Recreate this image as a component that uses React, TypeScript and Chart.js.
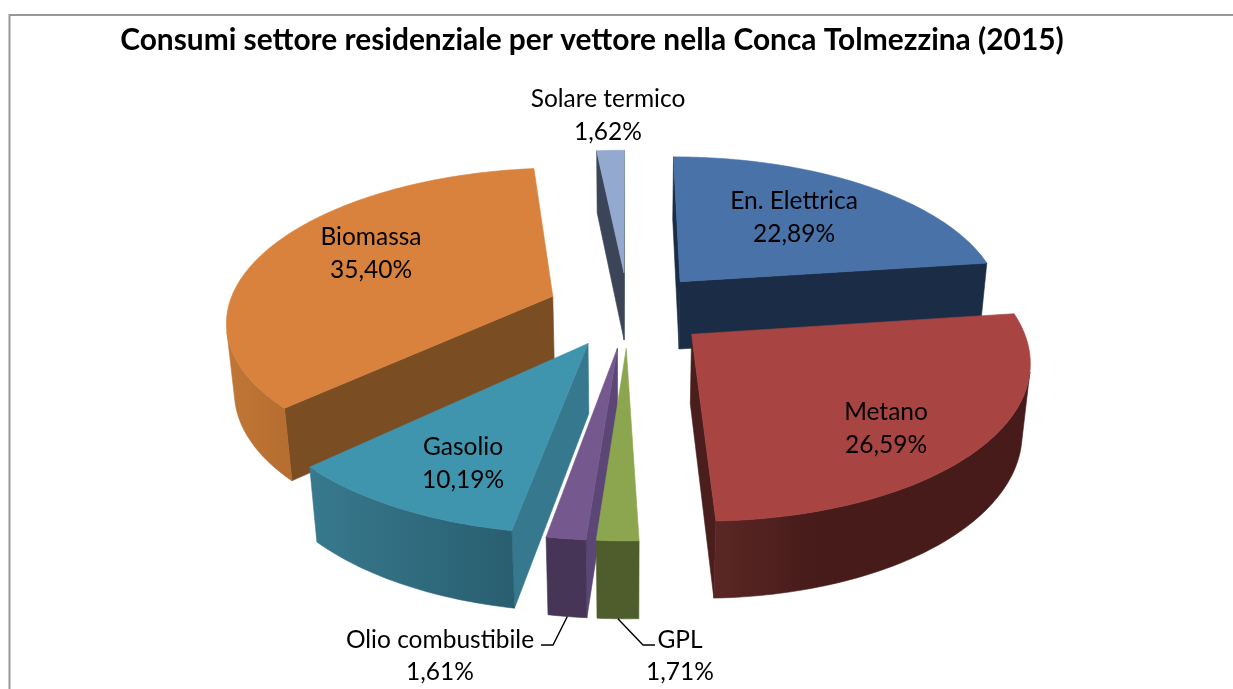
import React, { useEffect, useRef } from "react";
import { Chart, registerables } from "chart.js";

Chart.register(...registerables);

const categories = ["En. Elettrica", "Metano", "GPL", "Olio combustibile", "Gasolio", "Biomassa", "Solare termico"];
const shares = [22.89, 26.59, 1.71, 1.61, 10.19, 35.4, 1.62];
const shareLabels = ["22,89%", "26,59%", "1,71%", "1,61%", "10,19%", "35,40%", "1,62%"];
const chartTitle = "Consumi settore residenziale per vettore nella Conca Tolmezzina (2015)";

const topColors = ["#4872A8", "#A84442", "#8BA64F", "#74588E", "#3F94AE", "#D9823D", "#93A9CF"];
const wallColors = ["#1B2D46", "#4A1E1C", "#4F5D2C", "#5C4675", "#36798E", "#7B4D23", "#3C4558"];
const rimLeftColors = ["#1B2D46", "#5A2724", "#4F5D2C", "#463557", "#38798E", "#C07635", "#3C4558"];
const rimRightColors = ["#1B2D46", "#461B1A", "#4F5D2C", "#463557", "#295E70", "#B56D30", "#3C4558"];
const rimBlendEnd = [1, 0.33, 1, 1, 1, 1, 1];

const FONT = "Lato, 'Noto Sans', sans-serif";
const LABEL_PX = 24.5;
const labelAnchors: [number, number, number, number][] = [
  [794, 201, 794, 234],
  [886, 412, 886, 445],
  [680, 640, 680, 672],
  [440, 640, 440, 672],
  [463, 447, 463, 480],
  [371, 237, 371, 270],
  [608, 99, 608, 132],
];
const leaderElbows: Record<number, [number, number][]> = {
  2: [[643, 645], [655, 645]],
  3: [[553, 645], [541, 645]],
};

// Perspective of the tilted pie, fitted on the reference.
const VIEW = { cx: 628, horizon: -707, base: 9.84e-4, slope: 1.461e-4, widen: 0.32, vanishY: 3800 };

function project(X: number, Y: number, low: boolean): [number, number] {
  const T = 1 / (VIEW.base - VIEW.slope * Y);
  const x = VIEW.cx + X * VIEW.widen * T;
  const y = VIEW.horizon + T;
  if (!low) return [x, y];
  const d = 62 + (y - 150) * 0.0409;
  return [x + ((VIEW.cx - x) * d) / (VIEW.vanishY - y), y + d];
}

function fillPoly(ctx: CanvasRenderingContext2D, pts: [number, number][], color: any) {
  ctx.beginPath();
  pts.forEach((p, i) => (i ? ctx.lineTo(p[0], p[1]) : ctx.moveTo(p[0], p[1])));
  ctx.closePath();
  ctx.fillStyle = color;
  ctx.strokeStyle = color;
  ctx.lineWidth = 0.6;
  ctx.fill();
  ctx.stroke();
}

function signedArea(pts: [number, number][]) {
  let s = 0;
  pts.forEach((p, i) => {
    const q = pts[(i + 1) % pts.length];
    s += p[0] * q[1] - q[0] * p[1];
  });
  return s;
}

const pie3d = {
  id: "pie3d",
  beforeDraw(chart: any) {
    const { ctx } = chart;
    ctx.save();
    ctx.strokeStyle = "#989898";
    ctx.lineWidth = 2;
    ctx.strokeRect(9.5, 15, 1500, 1000);
    ctx.restore();
  },
  beforeDatasetsDraw(chart: any) {
    const { ctx } = chart;
    const arcs = chart.getDatasetMeta(0).data as any[];
    const slices = arcs.map((el, i) => {
      const R = el.outerRadius;
      const off = el.options.offset / R;
      const mid = (el.startAngle + el.endAngle) / 2;
      const ox = Math.cos(mid) * off;
      const oy = Math.sin(mid) * off;
      return { i, el, ox, oy, mid };
    });
    slices.sort((a, b) => a.oy - b.oy);
    ctx.save();
    ctx.lineJoin = "round";
    for (const { i, el, ox, oy } of slices) {
      const steps = Math.max(2, Math.ceil(((el.endAngle - el.startAngle) * 180) / Math.PI));
      const rimWorld: [number, number][] = [];
      for (let k = 0; k <= steps; k++) {
        const a = el.startAngle + ((el.endAngle - el.startAngle) * k) / steps;
        rimWorld.push([ox + Math.cos(a), oy + Math.sin(a)]);
      }
      const apex: [number, number] = [ox, oy];
      const quad = (a: [number, number], b: [number, number]): [number, number][] => [
        project(a[0], a[1], false),
        project(b[0], b[1], false),
        project(b[0], b[1], true),
        project(a[0], a[1], true),
      ];
      const faces = [quad(apex, rimWorld[0]), quad(rimWorld[steps], apex)];
      faces.forEach((q) => {
        if (signedArea(q) < 0) fillPoly(ctx, q, wallColors[i]);
      });
      const visible = rimWorld
        .slice(0, -1)
        .map((p, k) => quad(p, rimWorld[k + 1]))
        .filter((q) => signedArea(q) < 0);
      if (visible.length) {
        // The visible rim is one continuous band: one polygon, one horizontal gradient.
        const upper = [visible[0][0], ...visible.map((q) => q[1])];
        const lower = [visible[0][3], ...visible.map((q) => q[2])];
        const band = [...upper, ...lower.reverse()];
        const xs = band.map((p) => p[0]);
        const grad = ctx.createLinearGradient(Math.min(...xs), 0, Math.max(...xs), 0);
        grad.addColorStop(0, rimLeftColors[i]);
        grad.addColorStop(rimBlendEnd[i], rimRightColors[i]);
        fillPoly(ctx, band, grad);
      }
      const top = [apex, ...rimWorld].map((p) => project(p[0], p[1], false));
      fillPoly(ctx, top, topColors[i]);
    }
    ctx.restore();
    return false;
  },
  afterDraw(chart: any) {
    const { ctx } = chart;
    const arcs = chart.getDatasetMeta(0).data as any[];
    ctx.save();
    ctx.fillStyle = "#000";
    ctx.textAlign = "center";
    ctx.textBaseline = "middle";
    ctx.font = `${LABEL_PX}px ${FONT}`;
    chart.data.labels.forEach((name: string, i: number) => {
      const a = labelAnchors[i];
      ctx.fillText(name, a[0], a[1]);
      ctx.fillText(shareLabels[i], a[2], a[3]);
    });
    ctx.strokeStyle = "#000";
    ctx.lineWidth = 1.4;
    Object.keys(leaderElbows).forEach((key) => {
      const i = Number(key);
      const el = arcs[i];
      const off = el.options.offset / el.outerRadius;
      const mid = (el.startAngle + el.endAngle) / 2;
      const start = project(Math.cos(mid) * (1 + off), Math.sin(mid) * (1 + off), true);
      ctx.beginPath();
      ctx.moveTo(start[0], start[1]);
      leaderElbows[i].forEach((p) => ctx.lineTo(p[0], p[1]));
      ctx.stroke();
    });
    ctx.restore();
  },
};

export default function App() {
  const ref = useRef<HTMLCanvasElement>(null);
  useEffect(() => {
    document.body.style.margin = "0";
    document.body.style.background = "#fff";
    const chart = new Chart(ref.current!, {
      type: "pie",
      data: {
        labels: categories,
        datasets: [
          {
            data: shares,
            backgroundColor: topColors,
            borderWidth: 0,
            radius: 200,
            offset: 50,
          } as any,
        ],
      },
      options: {
        responsive: false,
        animation: false,
        layout: { padding: { right: 49 } },
        plugins: {
          legend: { display: false },
          tooltip: { enabled: false },
          title: {
            display: true,
            text: chartTitle,
            color: "#000",
            font: { family: FONT, size: 29.9, weight: "bold" },
            padding: { top: 22, bottom: 10 },
          },
        },
      },
      plugins: [pie3d],
    } as any);
    return () => chart.destroy();
  }, []);
  return <canvas ref={ref} width={1233} height={689} style={{ display: "block", width: 1233, height: 689 }} />;
}
